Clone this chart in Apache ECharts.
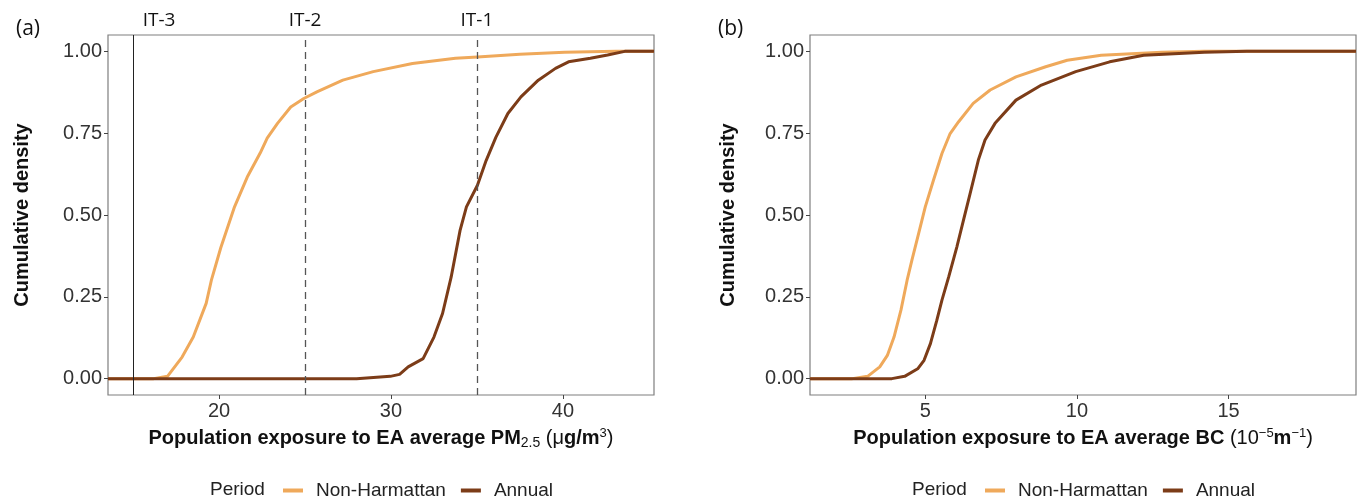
<!DOCTYPE html>
<html>
<head>
<meta charset="utf-8">
<script src="https://cdn.jsdelivr.net/npm/echarts@6/dist/echarts.min.js"></script>
<style>
  html, body { margin: 0; padding: 0; background: #fff; }
  #main { width: 1361px; height: 502px; }
</style>
</head>
<body>
<div id="main"></div>
<script>
// panel (a): PM2.5 exposure ECDF
var pmNonHarmX = [13.54, 16.2, 17.0, 17.85, 18.5, 19.25, 19.55, 20.1, 20.9, 21.64, 22.4, 22.8, 23.4, 24.17, 24.93, 25.69, 27.2, 28.97, 31.25, 33.75, 35.03, 37.5, 40.1, 43.1, 45.3];
var pmNonHarmY = [0, 0, 0.007, 0.066, 0.127, 0.23, 0.30, 0.40, 0.525, 0.616, 0.69, 0.735, 0.78, 0.83, 0.856, 0.876, 0.912, 0.938, 0.963, 0.979, 0.983, 0.991, 0.997, 1, 1];
var pmAnnualX = [13.54, 28.0, 29.96, 30.5, 31.0, 31.87, 32.5, 33.0, 33.5, 34.02, 34.39, 35.03, 35.54, 36.1, 36.8, 37.56, 38.57, 39.57, 40.33, 41.6, 42.6, 43.6, 45.3];
var pmAnnualY = [0, 0, 0.007, 0.013, 0.036, 0.061, 0.127, 0.199, 0.31, 0.453, 0.525, 0.591, 0.667, 0.737, 0.81, 0.861, 0.912, 0.948, 0.968, 0.979, 0.989, 1, 1];

// panel (b): BC exposure ECDF
var bcNonHarmX = [1.2, 2.6, 3.1, 3.5, 3.75, 3.97, 4.2, 4.4, 4.56, 4.78, 5.0, 5.27, 5.55, 5.82, 6.1, 6.58, 7.14, 7.99, 8.97, 9.68, 10.8, 12.8, 14.2, 19.2];
var bcNonHarmY = [0, 0, 0.007, 0.036, 0.071, 0.127, 0.21, 0.30, 0.362, 0.443, 0.525, 0.606, 0.688, 0.749, 0.785, 0.841, 0.882, 0.922, 0.953, 0.973, 0.988, 0.997, 1, 1];
var bcAnnualX = [1.2, 3.9, 4.32, 4.75, 4.96, 5.17, 5.38, 5.55, 5.77, 6.04, 6.26, 6.48, 6.75, 6.97, 7.3, 7.99, 8.83, 9.96, 11.08, 12.2, 14.2, 15.6, 19.2];
var bcAnnualY = [0, 0, 0.007, 0.03, 0.056, 0.107, 0.178, 0.24, 0.31, 0.402, 0.484, 0.566, 0.668, 0.729, 0.78, 0.851, 0.897, 0.938, 0.968, 0.988, 0.997, 1, 1];

var pmTicks = [20, 30, 40];
var bcTicks = [5, 10, 15];
var yTicks = [0, 0.25, 0.5, 0.75, 1];
var itValues = [15, 25, 35];
var itNames = ['IT-3', 'IT-2', 'IT-1'];

var colNonHarm = '#EFA95B';
var colAnnual = '#7C3C18';

function zip(xs, ys) {
    return xs.map(function (x, i) { return [x, ys[i]]; });
}

var chart = echarts.init(document.getElementById('main'));

var tickLabel = { color: '#333', fontSize: 20, fontFamily: 'Liberation Sans', margin: 6 };
var axisTick = { lineStyle: { color: '#444' }, length: 4 };
var nameRich = {
    sub: { fontSize: 14, fontWeight: 'normal', fontFamily: 'Liberation Sans', color: '#111', verticalAlign: 'bottom', padding: [8, 0, 0, 0] },
    sup: { fontSize: 13, fontWeight: 'normal', fontFamily: 'Liberation Sans', color: '#111', verticalAlign: 'top', padding: [0, 0, 10, 0] },
    n: { fontSize: 20, fontWeight: 'normal', fontFamily: 'Liberation Sans', color: '#111' }
};
var nameStyle = { fontSize: 20, fontWeight: 'bold', fontFamily: 'Liberation Sans', color: '#111', rich: nameRich };

function xAxisFor(idx, min, max, ticks, name) {
    return {
        type: 'value', gridIndex: idx, min: min, max: max,
        axisLine: { show: false, onZero: false },
        axisTick: Object.assign({ customValues: ticks }, axisTick),
        axisLabel: Object.assign({ customValues: ticks }, tickLabel),
        splitLine: { show: false },
        name: name, nameLocation: 'middle', nameGap: 32, nameTextStyle: nameStyle
    };
}
function yAxisFor(idx, gap) {
    return {
        type: 'value', gridIndex: idx, min: -0.05, max: 1.05,
        axisLine: { show: false, onZero: false },
        axisTick: Object.assign({ customValues: yTicks }, axisTick),
        axisLabel: Object.assign({ customValues: yTicks, formatter: function (v) { return v.toFixed(2); } }, tickLabel),
        splitLine: { show: false },
        name: 'Cumulative density', nameLocation: 'middle', nameGap: gap,
        nameTextStyle: { fontSize: 20, fontWeight: 'bold', fontFamily: 'Liberation Sans', color: '#111' }
    };
}

var itLabel = { show: true, position: 'end', distance: 5, color: '#111', fontSize: 19, fontFamily: 'Open Sans' };
var markData = itValues.map(function (v, i) {
    var solid = i === 0;
    return {
        xAxis: v, name: itNames[i],
        lineStyle: solid ? { type: 'solid', color: '#222', width: 1 } : { type: [7, 5], color: '#555', width: 1.3 },
        label: Object.assign({ formatter: itNames[i], padding: solid ? [0, 0, 0, 52] : 0 }, itLabel)
    };
});

function lineSeries(name, color, xi, data, extra) {
    return Object.assign({
        name: name, type: 'line', xAxisIndex: xi, yAxisIndex: xi,
        data: data, showSymbol: false, symbol: 'none',
        lineStyle: { color: color, width: 3 }, itemStyle: { color: color }
    }, extra || {});
}

var legendBase = {
    data: ['Non-Harmattan', 'Annual'], icon: 'rect', itemWidth: 20, itemHeight: 4, itemGap: 15,
    textStyle: { fontSize: 19, fontFamily: 'Liberation Sans', color: '#222', padding: [0, 0, 0, 8] }
};

var option = {
    animation: false,
    backgroundColor: '#fff',
    title: [
        { text: '(a)', left: 11, top: 14, textStyle: { fontSize: 21, fontWeight: 'normal', fontFamily: 'Open Sans', color: '#111' } },
        { text: '(b)', left: 713, top: 14, textStyle: { fontSize: 21, fontWeight: 'normal', fontFamily: 'Open Sans', color: '#111' } },
        { text: 'Period', left: 205, top: 475, textStyle: { fontSize: 19, fontWeight: 'normal', fontFamily: 'Liberation Sans', color: '#222' } },
        { text: 'Period', left: 907, top: 475, textStyle: { fontSize: 19, fontWeight: 'normal', fontFamily: 'Liberation Sans', color: '#222' } }
    ],
    legend: [
        Object.assign({ left: 278, top: 476 }, legendBase),
        Object.assign({ left: 980, top: 476 }, legendBase)
    ],
    grid: [
        { left: 108, top: 35, width: 546, height: 360, show: true, borderColor: '#7f7f7f', borderWidth: 1.2 },
        { left: 810, top: 35, width: 546, height: 360, show: true, borderColor: '#7f7f7f', borderWidth: 1.2 }
    ],
    xAxis: [
        xAxisFor(0, 13.54, 45.3, pmTicks, 'Population exposure to EA average PM{sub|2.5} {n|(μ}g/m{sup|3}{n|)}'),
        xAxisFor(1, 1.2, 19.2, bcTicks, 'Population exposure to EA average BC {n|(10}{sup|−5}m{sup|−1}{n|)}')
    ],
    yAxis: [yAxisFor(0, 76), yAxisFor(1, 72)],
    series: [
        lineSeries('Non-Harmattan', colNonHarm, 0, zip(pmNonHarmX, pmNonHarmY), {
            markLine: { silent: true, symbol: ['none', 'none'], animation: false, data: markData }
        }),
        lineSeries('Annual', colAnnual, 0, zip(pmAnnualX, pmAnnualY)),
        lineSeries('Non-Harmattan', colNonHarm, 1, zip(bcNonHarmX, bcNonHarmY)),
        lineSeries('Annual', colAnnual, 1, zip(bcAnnualX, bcAnnualY))
    ]
};

chart.setOption(option);
</script>
</body>
</html>
